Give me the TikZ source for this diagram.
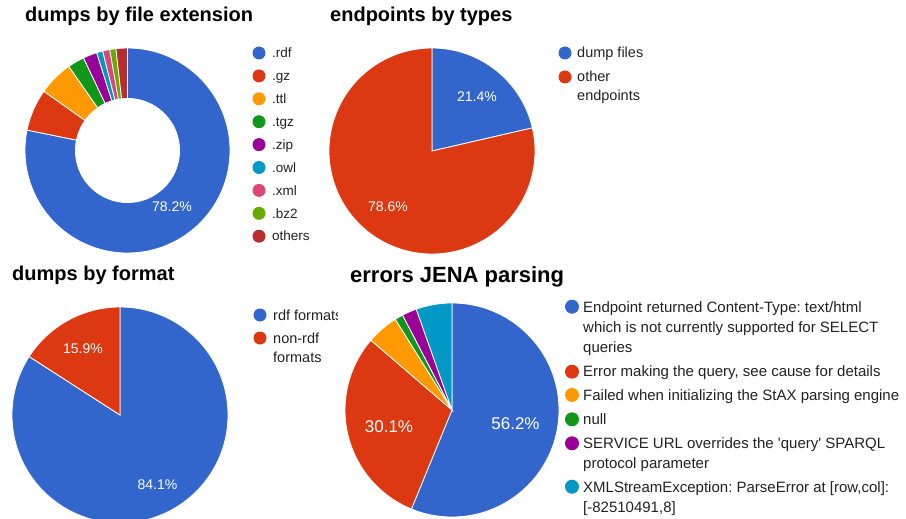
\documentclass[tikz,border=0pt]{standalone}
\usepackage{fontspec}
\setmainfont{Liberation Sans}
\usetikzlibrary{calc}
\frenchspacing

\definecolor{gblue}{HTML}{3366CC}
\definecolor{gred}{HTML}{DC3912}
\definecolor{gorange}{HTML}{FF9900}
\definecolor{ggreen}{HTML}{109618}
\definecolor{gpurple}{HTML}{990099}
\definecolor{gteal}{HTML}{0099C6}
\definecolor{gpink}{HTML}{DD4477}
\definecolor{glime}{HTML}{66AA00}
\definecolor{gdark}{HTML}{B82E2E}
\definecolor{legtext}{HTML}{222222}

% centre, radius, from angle, to angle, colour
\newcommand{\pieslice}[5]{\fill [#5, draw=white, line width=0.8pt] #1 -- ++(#3:#2) arc (#3:#4:#2) -- cycle;}

\begin{document}
\begin{tikzpicture}[x=1pt, y=1pt,
    title/.style={anchor=base west, inner sep=0pt, font=\bfseries\fontsize{20}{24}\selectfont},
    legend/.style={anchor=base west, inner sep=0pt, text=legtext, font=\fontsize{14.5}{17}\selectfont},
    pct/.style={inner sep=0pt, text=white, font=\fontsize{14}{17}\selectfont}]
    \useasboundingbox (0,0) rectangle (906,-519);
    \clip (0,0) rectangle (906,-519);

    % dumps by file extension
    \node (t1) [title] at (25,-22) {dumps by file extension};
    \coordinate (c1) at (127.5,-150.5);
    \foreach \col/\a/\b in {gblue/90/-191.5, gred/-191.5/-215.3, gorange/-215.3/-235.1,
        ggreen/-235.1/-244.6, gpurple/-244.6/-252.5, gteal/-252.5/-256,
        gpink/-256/-260, glime/-260/-263.5, gdark/-263.5/-270} {
        \pieslice{(c1)}{102.5pt}{\a}{\b}{\col}
    }
    \fill [white] (c1) circle (52.5pt);
    \node (p1) [pct] at (172,-207) {78.2\%};
    \foreach \col/\txt [count=\i] in {gblue/.rdf, gred/.gz, gorange/.ttl, ggreen/.tgz,
        gpurple/.zip, gteal/.owl, gpink/.xml, glime/.bz2, gdark/others} {
        \fill [\col] (259,{-53-22.9*(\i-1)}) circle (6.5pt);
        \node (ext\i) [legend, font=\fontsize{13.5}{16}\selectfont] at (272,{-57.7-22.9*(\i-1)}) {\txt};
    }

    % endpoints by types
    \node (t2) [title] at (330,-22) {endpoints by types};
    \coordinate (c2) at (432,-151);
    \pieslice{(c2)}{103pt}{90}{12.96}{gblue}
    \pieslice{(c2)}{103pt}{12.96}{-270}{gred}
    \node (p2a) [pct] at (477,-97) {21.4\%};
    \node (p2b) [pct] at (388,-207) {78.6\%};
    \fill [gblue] (565,-53) circle (6.5pt);
    \fill [gred] (565,-77) circle (6.5pt);
    \node (dump) [legend] at (577,-58) {dump files};
    \node (other) [legend] at (577,-82) {other};
    \node (other2) [legend] at (577,-100) {endpoints};

    % dumps by format
    \node (t3) [title] at (12,-280) {dumps by format};
    \coordinate (c3) at (120,-415);
    \pieslice{(c3)}{108pt}{90}{-212.76}{gblue}
    \pieslice{(c3)}{108pt}{-212.76}{-270}{gred}
    \node (p3a) [pct] at (83,-349) {15.9\%};
    \node (p3b) [pct] at (157.5,-485) {84.1\%};
    \fill [gblue] (260,-315) circle (6.5pt);
    \fill [gred] (260,-338) circle (6.5pt);
    \begin{scope}
        \clip (250,-300) rectangle (337,-330);
        \node (rdf) [legend] at (273,-320) {rdf formats};
    \end{scope}
    \node (nonrdf) [legend] at (273,-343) {non-rdf};
    \node (nonrdf2) [legend] at (273,-362) {formats};

    % errors JENA parsing
    \node (t4) [title, font=\bfseries\fontsize{22}{26}\selectfont] at (350,-282) {errors JENA parsing};
    \coordinate (c4) at (452,-410);
    \foreach \col/\a/\b in {gblue/90/-112.3, gred/-112.3/-220.7, gorange/-220.7/-238,
        ggreen/-238/-242.5, gpurple/-242.5/-250.5, gteal/-250.5/-270} {
        \pieslice{(c4)}{107pt}{\a}{\b}{\col}
    }
    \node (p4a) [pct, font=\fontsize{17}{20}\selectfont] at (389,-427) {30.1\%};
    \node (p4b) [pct, font=\fontsize{17}{20}\selectfont] at (515.5,-424) {56.2\%};
    \foreach \col/\y in {gblue/306.7, gred/371.7, gorange/395, ggreen/419.3, gpurple/443.3, gteal/486.7}
        \fill [\col] (572,-\y) circle (7pt);
    \node (e1) [legend, font=\fontsize{15}{18}\selectfont] at (583,-312) {Endpoint returned Content-Type: text/html};
    \node (e1b) [legend, font=\fontsize{15}{18}\selectfont] at (583,-332) {which is not currently supported for SELECT};
    \node (e1c) [legend, font=\fontsize{15}{18}\selectfont] at (583,-352) {queries};
    \node (e2) [legend, font=\fontsize{15}{18}\selectfont] at (583,-376.5) {Error making the query, see cause for details};
    \node (e3) [legend, font=\fontsize{15}{18}\selectfont] at (583,-400.5) {Failed when initializing the StAX parsing engine};
    \node (e4) [legend, font=\fontsize{15}{18}\selectfont] at (583,-424.5) {null};
    \node (e5) [legend, font=\fontsize{15}{18}\selectfont] at (583,-448.5) {SERVICE URL overrides the \textquotesingle query\textquotesingle{} SPARQL};
    \node (e5b) [legend, font=\fontsize{15}{18}\selectfont] at (583,-468.5) {protocol parameter};
    \node (e6) [legend, font=\fontsize{15}{18}\selectfont] at (583,-492) {XMLStreamException: ParseError at [row,col]:};
    \node (e6b) [legend, font=\fontsize{15}{18}\selectfont] at (583,-512) {[-82510491,8]};
\end{tikzpicture}
\end{document}
